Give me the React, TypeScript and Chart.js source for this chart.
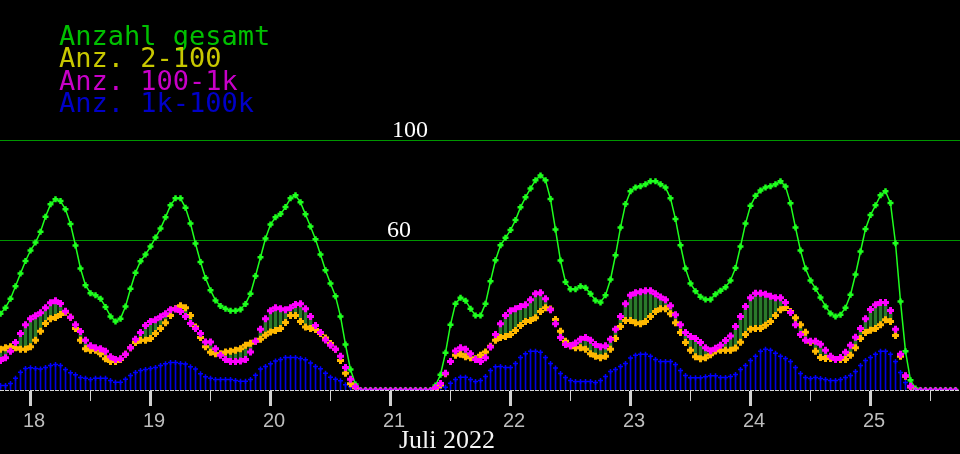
import React, { useEffect, useRef } from 'react';
import { Chart, registerables } from 'chart.js';

Chart.register(...registerables);

// hourly samples, first one is 17.07. 18:00 (hour -6 relative to 18.07. 00:00)
const startHour = -6;

const total = [
  30.6, 33, 36.6, 41.6, 46.7, 51.7, 55.9, 59.1, 63.4, 69.4, 74.4, 76.4,
  75.7, 72.4, 66.5, 57.9, 48.7, 42, 38.8, 38, 36.6, 33.3, 29.5, 27.5,
  28.6, 33.5, 40.6, 47, 51.6, 54.3, 57.5, 61.1, 64.7, 69.2, 74, 76.8,
  76.8, 73, 66.7, 58.7, 51.3, 44.9, 40, 35.9, 33.7, 32.6, 31.8, 31.8,
  32.3, 34.5, 38.6, 45.7, 53.2, 60.7, 66.3, 69.2, 70.5, 73.3, 76.8, 78,
  75.2, 70.4, 65.5, 60.4, 54.3, 48, 42.7, 37.6, 29.5, 18.2, 8.2, 2.2,
  0, 0, 0, 0, 0, 0, 0, 0, 0, 0, 0, 0, 0, 0, 0,
  1.8, 6.1, 14.9, 26.2, 34.6, 37, 35.8, 32.6, 29.9,
  29.9, 34.6, 43.6, 52, 58, 61, 64.1, 68.1, 73.2, 77.2, 80.8, 84.1,
  86, 84.1, 76.5, 64.3, 51.9, 43.3, 40.4, 40.4, 41.6, 41, 38.6, 35.9,
  35.1, 38, 44.3, 54, 65.1, 74.5, 79.7, 81.2, 81.7, 82.5, 83.7, 83.7,
  82.5, 81.2, 76.8, 68.5, 58, 48.7, 42.7, 39.6, 37.4, 36.3, 36.3, 38.4,
  39.8, 41.2, 43.9, 48.9, 57.5, 66.7, 73.8, 77.8, 80, 81.2, 81.7, 82.5,
  83.7, 81.6, 74.8, 65.1, 55.9, 48.7, 43.9, 40.6, 37.1, 33.5, 30.7, 29.5,
  30.2, 33, 38.2, 46.3, 55.5, 64.5, 70.1, 74, 78, 79.7, 74.9, 58.8,
  35.5, 15.5, 3.9, 0.6, 0, 0, 0, 0, 0, 0, 0, 0,
];

const anz2to100 = [
  16.3, 16.9, 17.3, 16.9, 16.3, 16.3, 17.3, 19.9, 23.5, 26.7, 28.6, 29.1,
  30.3, 31.2, 29.2, 24.6, 19.9, 16.5, 15.9, 15.9, 14.5, 12.5, 11.4, 11.4,
  12.2, 14.3, 16.9, 19, 19.9, 19.9, 20.6, 22.6, 24.6, 27, 29.9, 32.6,
  33.8, 33, 29.9, 25.2, 21, 17.3, 15.1, 14.5, 14.5, 15.2, 15.5, 15.9,
  16.5, 17.9, 18.7, 19.5, 20.3, 21.9, 23.2, 23.8, 24.6, 27.1, 29.9, 29.9,
  27.5, 25.2, 24.6, 24.2, 22.6, 20.8, 18.6, 16.3, 11.8, 6.7, 2.5, 0.9,
  0, 0, 0, 0, 0, 0, 0, 0, 0, 0, 0, 0, 0, 0, 0,
  0.5, 2, 6.5, 11.4, 13.9, 14.3, 13.3, 12.9, 12.5,
  13.9, 15.2, 17.5, 19.9, 21, 21.4, 22.2, 23.8, 25.8, 27.5, 27.9, 29,
  31.5, 33, 32.5, 28.3, 23.5, 19.5, 17.7, 16.9, 16.9, 16.3, 14.5, 13.5,
  12.9, 13.5, 16.3, 20.6, 25.4, 27.9, 27.9, 27, 26.6, 27.5, 29.5, 31.5,
  32.6, 32.6, 30.6, 27, 23, 19, 15.9, 13.3, 12.5, 12.9, 14.1, 15.6,
  15.9, 15.9, 15.9, 16.8, 19.1, 22.2, 24.3, 24.6, 24.6, 25.9, 27.5, 29.9,
  32.2, 33.1, 31.5, 29, 26.2, 23.1, 19.1, 15.5, 13, 12.6, 12.6, 12.2,
  12.2, 12.2, 13.9, 16.9, 20.6, 23, 23.9, 24.6, 26.2, 28.2, 27.5, 21.8,
  13.5, 5.5, 1.2, 0, 0, 0, 0, 0, 0, 0, 0, 0,
];

const anz100to1k = [
  11.8, 12.9, 15.5, 19, 22.6, 26.2, 28.6, 29.8, 31, 33, 35, 35.8,
  34.7, 31.6, 29.2, 26.2, 23.4, 19.9, 17.7, 16.9, 16.5, 15.5, 13.3, 12.2,
  12.5, 14.3, 16.9, 20.3, 23, 25.8, 27.5, 28.2, 29.4, 30.6, 32.2, 32.5,
  31.5, 29.5, 26.7, 24.6, 22.6, 19.2, 19.2, 16.5, 13.9, 12.2, 11.4, 11.4,
  11.6, 12.2, 15.2, 19.5, 24.3, 28.6, 31.8, 33, 32.6, 32.2, 33, 34.3,
  34.6, 32.6, 29.5, 25.8, 23, 20, 17.9, 16.3, 13.5, 9, 4.3, 1.3,
  0, 0, 0, 0, 0, 0, 0, 0, 0, 0, 0, 0, 0, 0, 0,
  0.9, 2.6, 6.7, 11.4, 15.6, 16.9, 16.3, 14.5, 12.2,
  11.4, 12.9, 17.2, 22.2, 26.6, 29.9, 31.8, 32.6, 33.5, 34.2, 36.2, 38.6,
  39, 36.6, 32.2, 26.6, 21, 18.2, 17.7, 18.8, 20.3, 21, 19.9, 18.2,
  17.3, 17.7, 20.3, 24.3, 29.5, 34.6, 38, 39, 39.4, 39.8, 39.8, 38.6,
  37.3, 36.2, 33.8, 30.2, 26.2, 23, 21.4, 20.6, 19, 16.9, 15.7, 16.7,
  17.9, 19.8, 21.6, 25.4, 29.5, 33.5, 37, 38.8, 38.8, 38.4, 37.6, 37,
  37, 35.1, 31.1, 26.2, 22.2, 19.9, 19.5, 19.5, 18.3, 15.9, 13.5, 12.2,
  13, 15.1, 17.9, 21.1, 24.6, 28.6, 32.3, 34.2, 35.1, 35.1, 31.9, 24.3,
  14.3, 5.7, 1.5, 0, 0, 0, 0, 0, 0, 0, 0, 0,
];

const anz1kto100k = [
  1.8, 1.8, 2.6, 4.7, 7.1, 8.6, 8.9, 8.6, 8.4, 9, 9.8, 10.2,
  9.8, 8.2, 6.9, 6.1, 5, 4.7, 4.2, 4.7, 4.7, 4.7, 3.8, 3.1,
  3.1, 4.3, 5.8, 7, 7.8, 8.2, 8.6, 9, 9.8, 10.5, 11, 11,
  10.6, 10.4, 9.3, 8.4, 6.5, 5.3, 4.7, 4.2, 4.2, 4.2, 4.2, 3.8,
  3.5, 3.5, 4.2, 5.9, 8.4, 9.4, 10.5, 11.6, 12.2, 13, 13, 13,
  12.6, 12.1, 10.8, 9.4, 8.5, 6.7, 5.1, 4.3, 3.7, 2.1, 1.3, 0.5,
  0, 0, 0, 0, 0, 0, 0, 0, 0, 0, 0, 0, 0, 0, 0,
  0.3, 1.3, 1.1, 2.7, 4.2, 5.1, 5.1, 4.2, 3.4,
  3.8, 5.4, 7.8, 9.3, 9.4, 9, 9, 10.6, 13, 14.5, 15.5, 15.5,
  15.1, 13, 10.6, 8.8, 6.6, 5, 3.8, 3.4, 3.4, 3.4, 3.4, 3,
  3.8, 5.4, 7.4, 8.2, 9.4, 10.6, 12.8, 13.9, 14.3, 14.3, 13.5, 12.2,
  11.4, 11.4, 11.4, 10.2, 7.8, 5.8, 4.9, 4.9, 4.9, 5.3, 5.7, 5.7,
  5, 5, 5.4, 6.2, 8.2, 9.8, 11.8, 13.5, 15.5, 16.3, 15.9, 14.7,
  13.5, 12.6, 11.4, 9, 6.6, 5, 4.6, 5, 4.6, 4.2, 3.8, 3.8,
  4.2, 5, 5.8, 7.4, 9.8, 11.8, 13, 14.3, 15.5, 15.5, 14.3, 11.4,
  7, 3, 0.9, 0, 0, 0, 0, 0, 0, 0, 0, 0,
];

const dayLabels = ['18', '19', '20', '21', '22', '23', '24', '25'];
const monthLabel = 'Juli 2022';
const gridValues = [60, 100];
const legendLabels = ['Anzahl gesamt', 'Anz. 2-100', 'Anz. 100-1k', 'Anz. 1k-100k'];
const legendColors = ['#00c000', '#c8c800', '#c800c8', '#0000c8'];

const hours = total.map((_, i) => startHour + i);
const pts = (arr: number[]) => arr.map((v, i) => ({ x: hours[i], y: v }));

const framePlugin = {
  id: 'frame',
  beforeDraw(chart: any) {
    const { ctx, width, height } = chart;
    ctx.save();
    ctx.fillStyle = '#000000';
    ctx.fillRect(0, 0, width, height);
    ctx.restore();
  },
  beforeDatasetsDraw(chart: any) {
    const { ctx, chartArea } = chart;
    const yScale = chart.scales.y;
    ctx.save();
    // horizontal guide lines with their labels
    ctx.strokeStyle = '#009600';
    ctx.lineWidth = 1;
    ctx.font = '24px "Liberation Serif"';
    ctx.fillStyle = '#ffffff';
    ctx.textAlign = 'left';
    ctx.textBaseline = 'alphabetic';
    gridValues.forEach((v) => {
      const py = Math.floor(yScale.getPixelForValue(v)) + 0.5;
      ctx.beginPath();
      ctx.moveTo(chartArea.left, py);
      ctx.lineTo(chartArea.right, py);
      ctx.stroke();
      ctx.fillText(String(v), v === 100 ? 392 : 387, py - 3.5);
    });
    // dashed zero line
    const y0 = Math.floor(yScale.getPixelForValue(0)) + 0.5;
    ctx.strokeStyle = '#d8d8d8';
    ctx.setLineDash([4, 1]);
    ctx.beginPath();
    ctx.moveTo(chartArea.left, y0);
    ctx.lineTo(chartArea.right, y0);
    ctx.stroke();
    ctx.restore();
  },
  afterDraw(chart: any) {
    const { ctx } = chart;
    const xScale = chart.scales.x;
    const y0 = Math.floor(chart.scales.y.getPixelForValue(0)) + 1;
    ctx.save();
    ctx.fillStyle = '#d0d0d0';
    dayLabels.forEach((_, i) => {
      const px = xScale.getPixelForValue(i * 24);
      ctx.fillRect(px - 1.5, y0, 3, 15);
      const mx = xScale.getPixelForValue(i * 24 + 12);
      if (mx < chart.width) ctx.fillRect(mx - 0.5, y0, 1, 10);
    });
    ctx.fillStyle = '#bdbdbd';
    ctx.font = '20px "Liberation Sans"';
    ctx.textAlign = 'left';
    dayLabels.forEach((d, i) => {
      const px = xScale.getPixelForValue(i * 24);
      ctx.fillText(d, px - 7.5, 427);
    });
    ctx.fillStyle = '#f4f4f4';
    ctx.font = '26px "Liberation Serif"';
    ctx.fillText(monthLabel, 399, 448);

    ctx.font = '27px "DejaVu Sans Mono"';
    legendLabels.forEach((t, i) => {
      ctx.fillStyle = legendColors[i];
      ctx.fillText(t, 59, 45 + i * 22.3);
    });
    ctx.restore();
  },
};

const zeroHidden = (r: number) => (c: any) => (c.raw && c.raw.y === 0 ? 0 : r);

export default function App() {
  const chartRef = useRef<HTMLCanvasElement>(null);
  const chartInstance = useRef<Chart | null>(null);

  useEffect(() => {
    if (!chartRef.current) return;
    if (chartInstance.current) {
      chartInstance.current.destroy();
    }

    chartInstance.current = new Chart(chartRef.current, {
      type: 'line',
      data: {
        datasets: [
          {
            label: 'Anz. 100-1k',
            data: pts(anz100to1k),
            showLine: false,
            order: 0,
            pointStyle: (c: any) => (c.raw && c.raw.y === 0 ? 'rectRot' : 'cross'),
            pointRadius: (c: any) => (c.raw && c.raw.y === 0 ? 2.5 : 3.5),
            pointBorderWidth: (c: any) => (c.raw && c.raw.y === 0 ? 1.2 : 3),
            pointBorderColor: '#ff00ff',
            pointBackgroundColor: '#8a40ff',
          },
          {
            label: 'Anz. 2-100',
            data: pts(anz2to100),
            showLine: false,
            order: 1,
            pointStyle: 'cross',
            pointRadius: zeroHidden(3.5),
            pointBorderWidth: 3,
            pointBorderColor: '#ffb800',
          },
          {
            label: 'Anzahl gesamt',
            data: pts(total),
            order: 2,
            borderColor: '#1eff1e',
            borderWidth: 1.5,
            tension: 0,
            pointStyle: 'cross',
            pointRadius: 3,
            pointBorderWidth: 2.5,
            pointBorderColor: '#1eff1e',
          },
          {
            label: 'Anz. 1k-100k',
            data: pts(anz1kto100k),
            showLine: false,
            order: 3,
            pointStyle: 'cross',
            pointRadius: zeroHidden(2.5),
            pointBorderWidth: 1.5,
            pointBorderColor: '#0000ff',
          },
          {
            type: 'bar',
            label: 'spread',
            data: anz2to100.map((v, i) => ({ x: hours[i], y: [v, anz100to1k[i]] })),
            order: 4,
            grouped: false,
            barThickness: 3,
            maxBarThickness: 3,
            backgroundColor: '#2a7a2a',
            borderWidth: 0,
          },
          {
            type: 'bar',
            label: 'stems',
            data: pts(anz1kto100k),
            order: 5,
            grouped: false,
            barThickness: 1,
            maxBarThickness: 1,
            backgroundColor: '#0000e0',
            borderWidth: 0,
          },
        ] as any,
      },
      options: {
        responsive: true,
        maintainAspectRatio: false,
        animation: false,
        layout: { autoPadding: false, padding: { left: 0, right: 0, top: 0, bottom: 64 } },
        plugins: {
          legend: { display: false },
          tooltip: { enabled: false },
        },
        scales: {
          x: {
            type: 'linear',
            min: startHour - 0.1,
            max: startHour - 0.1 + 192,
            offset: false,
            display: false,
          },
          y: {
            min: 0,
            max: 156.3,
            display: false,
          },
        },
      },
      plugins: [framePlugin],
    });

    return () => {
      if (chartInstance.current) {
        chartInstance.current.destroy();
        chartInstance.current = null;
      }
    };
  }, []);

  return (
    <div style={{ position: 'fixed', left: 0, top: 0, width: '960px', height: '454px', background: '#000' }}>
      <canvas ref={chartRef}></canvas>
    </div>
  );
}
